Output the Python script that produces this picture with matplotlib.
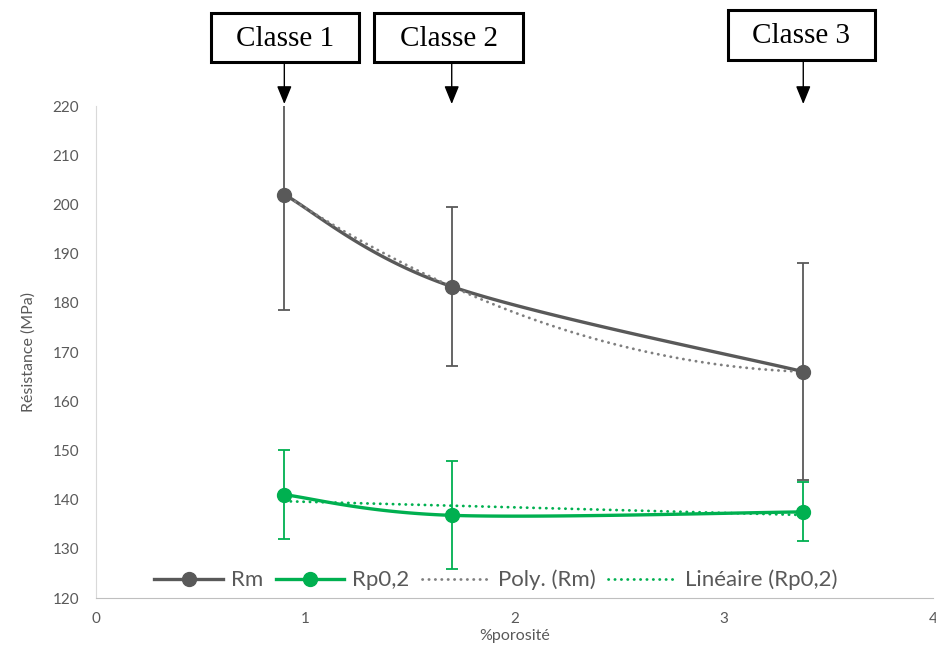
import numpy as np
import matplotlib
matplotlib.use("Agg")
import matplotlib.pyplot as plt
from matplotlib.patches import Rectangle
from matplotlib.transforms import blended_transform_factory

# porosity classes and measured strengths
porosite = [0.9, 1.7, 3.38]
rm = [202.0, 183.3, 166.0]
rm_err = [23.4, 16.2, 22.0]
rp02 = [141.0, 136.8, 137.5]
rp02_err = [9.0, 11.0, 6.0]
classes = ["Classe 1", "Classe 2", "Classe 3"]

GREY = "#595959"
GREEN = "#00B050"
TXT = "#595959"
W, H = 936, 647


def smooth(xs, ys, n=60):
    """Piecewise Bezier through the points (spreadsheet-style smoothed line)."""
    pts = np.column_stack([xs, ys]).astype(float)
    out = []
    for i in range(len(pts) - 1):
        p0 = pts[max(i - 1, 0)]
        p1 = pts[i]
        p2 = pts[i + 1]
        p3 = pts[min(i + 2, len(pts) - 1)]
        c1 = p1 + (p2 - p0) / 6.0
        c2 = p2 - (p3 - p1) / 6.0
        t = np.linspace(0, 1, n)[:, None]
        seg = ((1 - t) ** 3) * p1 + 3 * ((1 - t) ** 2) * t * c1 + 3 * (1 - t) * t ** 2 * c2 + t ** 3 * p2
        out.append(seg if i == 0 else seg[1:])
    seg = np.vstack(out)
    return seg[:, 0], seg[:, 1]


plt.rcParams["font.family"] = ["Lato", "DejaVu Sans"]

fig = plt.figure(figsize=(W / 100, H / 100), dpi=100)
ax = fig.add_axes([96 / W, 1 - 598 / H, 837 / W, 492 / H])

# smoothed series lines
sx, sy = smooth(porosite, rm)
ax.plot(sx, sy, color=GREY, lw=2.4, solid_capstyle="round", zorder=4)
sx, sy = smooth(porosite, rp02)
ax.plot(sx, sy, color=GREEN, lw=2.4, solid_capstyle="round", zorder=4)

# trendlines
dots = (0, (0.1, 2.2))
xt = np.linspace(porosite[0], porosite[-1], 200)
poly = np.polyfit(porosite, rm, 2)
ax.plot(xt, np.polyval(poly, xt), color="#7F7F7F", lw=2.0, ls=dots,
        dash_capstyle="round", zorder=5)
lin = np.polyfit(porosite, rp02, 1)
ax.plot(xt, np.polyval(lin, xt), color=GREEN, lw=2.0, ls=dots,
        dash_capstyle="round", zorder=5)

# error bars and markers
ax.errorbar(porosite, rm, yerr=rm_err, fmt="none", ecolor=GREY, elinewidth=1.3,
            capsize=4.5, capthick=1.3, zorder=3)
ax.errorbar(porosite, rp02, yerr=rp02_err, fmt="none", ecolor=GREEN, elinewidth=1.3,
            capsize=4.5, capthick=1.3, zorder=3)
ax.plot(porosite, rm, "o", color=GREY, ms=10, zorder=6)
ax.plot(porosite, rp02, "o", color=GREEN, ms=10, zorder=6)

ax.set_xlim(0, 4)
ax.set_ylim(120, 220)
ax.set_xticks([0, 1, 2, 3, 4])
ax.set_yticks(np.arange(120, 221, 10))
ax.tick_params(length=0, labelsize=11, labelcolor=TXT)
ax.tick_params(axis="x", pad=10)
ax.tick_params(axis="y", pad=12)
for s in ["top", "right"]:
    ax.spines[s].set_visible(False)
ax.spines["left"].set_color("#D9D9D9")
ax.spines["bottom"].set_color("#BFBFBF")
ax.set_xlabel("%porosité", fontsize=11.5, color=TXT, labelpad=2)
ax.set_ylabel("Résistance (MPa)", fontsize=11.5, color=TXT, labelpad=12)

# legend
h_rm, = ax.plot([], [], color=GREY, lw=2.4, marker="o", ms=10)
h_rp, = ax.plot([], [], color=GREEN, lw=2.4, marker="o", ms=10)
h_pl, = ax.plot([], [], color="#7F7F7F", lw=2.0, ls=dots, dash_capstyle="round")
h_li, = ax.plot([], [], color=GREEN, lw=2.0, ls=dots, dash_capstyle="round")
ax.legend([h_rm, h_rp, h_pl, h_li], ["Rm", "Rp0,2", "Poly. (Rm)", "Linéaire (Rp0,2)"],
          loc="center", bbox_to_anchor=((496 - 96) / 837, 18 / 492), ncol=4, frameon=False,
          fontsize=16, handlelength=3.1, handletextpad=0.35, columnspacing=0.55,
          labelcolor=TXT)

# class boxes (pixel extents) with arrows pointing to each porosity level
boxes = [(211, 13, 359, 62), (374, 13, 523, 62), (728, 10, 875, 60)]
trans = blended_transform_factory(ax.transData, fig.transFigure)
for name, (x0, y0, x1, y1), xd in zip(classes, boxes, porosite):
    fig.add_artist(Rectangle((x0 / W, 1 - y1 / H), (x1 - x0) / W, (y1 - y0) / H,
                             transform=fig.transFigure, fc="white", ec="black", lw=2.2))
    fig.text((x0 + x1) / 2 / W, 1 - (y0 + y1 + 2) / 2 / H, name, ha="center", va="center",
             fontsize=21, family="Liberation Serif", color="black")
    ax.annotate("", xy=(xd, 1 - 104 / H), xycoords=trans,
                xytext=(xd, 1 - y1 / H), textcoords=trans,
                arrowprops=dict(arrowstyle="-|>,head_length=1.1,head_width=0.45",
                                color="black", lw=1.0, shrinkA=0, shrinkB=0),
                annotation_clip=False)

fig.savefig("out.png", dpi=100)
